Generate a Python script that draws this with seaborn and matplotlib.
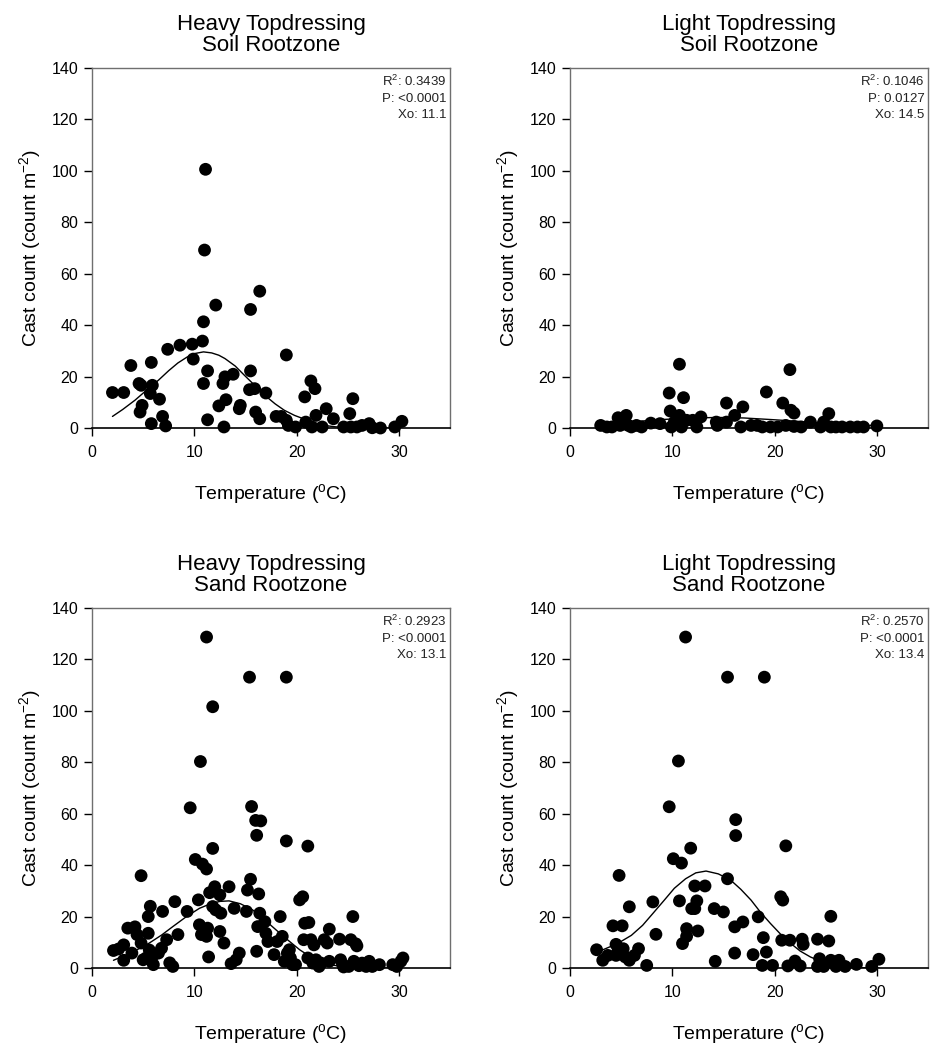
import pandas as pd
import seaborn as sns
import matplotlib.pyplot as plt

# ---- data ----
heavy_soil_temp = [2.0, 3.1, 3.8, 4.6, 4.8, 4.9, 4.7, 5.8, 5.9, 5.7, 6.6, 5.8, 6.9, 7.2,
                   7.4, 8.6, 9.8, 9.9, 10.8, 10.9, 11.0, 11.1, 10.9, 11.3, 11.3, 12.1,
                   12.4, 12.8, 13.0, 12.9, 13.1, 13.8, 14.4, 14.5, 15.5, 16.4, 15.5, 15.4,
                   15.9, 16.0, 16.4, 17.0, 18.0, 18.5, 19.0, 19.0, 19.2, 19.9, 20.8, 20.9,
                   21.4, 21.8, 21.9, 21.5, 22.5, 22.9, 23.6, 24.6, 25.2, 25.5, 25.3, 25.9,
                   26.4, 27.1, 27.4, 28.2, 29.6, 30.3]
heavy_soil_cast = [13.8, 13.8, 24.3, 17.3, 16.6, 8.8, 6.2, 25.5, 16.6, 13.4, 11.2, 1.7, 4.5, 0.8,
                   30.6, 32.2, 32.6, 26.8, 33.8, 41.3, 69.2, 100.6, 17.3, 22.2, 3.2, 47.8,
                   8.6, 17.3, 19.9, 0.4, 11.0, 20.9, 7.5, 8.8, 46.1, 53.2, 22.2, 14.9,
                   15.3, 6.2, 3.6, 13.6, 4.5, 4.5, 28.4, 3.0, 1.0, 0.4, 12.1, 2.3,
                   18.3, 15.3, 4.9, 0.4, 0.4, 7.5, 3.6, 0.4, 5.6, 11.4, 0.4, 0.4,
                   1.0, 1.7, 0.1, 0.0, 0.4, 2.6]

light_soil_temp = [3.0, 3.6, 4.1, 4.7, 4.9, 5.5, 5.7, 6.0, 6.5, 7.0, 7.9, 8.8, 9.7, 9.8,
                   9.9, 10.2, 10.7, 10.7, 10.9, 11.1, 11.4, 12.0, 12.4, 12.8, 14.3, 14.4,
                   15.3, 15.3, 16.1, 16.7, 16.9, 17.7, 18.3, 18.8, 19.2, 19.6, 20.3, 20.8,
                   21.1, 21.5, 21.6, 21.9, 21.9, 22.6, 23.5, 24.5, 24.8, 25.3, 25.5, 26.0,
                   26.6, 27.4, 28.1, 28.7, 30.0]
light_soil_cast = [1.0, 0.4, 0.4, 4.0, 1.0, 4.9, 1.0, 0.4, 1.0, 0.4, 1.9, 1.7, 13.6, 6.6,
                   0.4, 2.3, 24.8, 4.9, 0.4, 11.8, 3.0, 3.0, 0.4, 4.3, 2.3, 1.0,
                   2.3, 9.7, 4.9, 0.4, 8.2, 1.0, 1.0, 0.4, 14.0, 0.4, 0.4, 9.7,
                   1.0, 22.7, 6.9, 5.8, 0.6, 0.4, 2.3, 0.4, 2.3, 5.6, 0.4, 0.4,
                   0.4, 0.4, 0.4, 0.4, 0.8]

heavy_sand_temp = [11.2, 15.4, 19.0, 11.8,
                   2.1, 2.6, 3.1, 3.1, 3.5, 3.9, 4.2, 4.4, 4.8, 4.8, 5.0, 5.3, 5.5, 5.7,
                   5.5, 5.6, 6.0, 6.0, 6.5, 6.8, 6.9, 7.3, 7.6, 7.9, 8.1, 8.4, 9.3, 9.6,
                   10.1, 10.4, 10.5, 10.6, 10.7, 10.8, 11.2, 11.2, 11.3, 11.4, 11.5, 11.8,
                   11.8, 12.0, 12.1, 12.5, 12.5, 12.6, 12.9, 13.4, 13.6, 13.9, 14.1, 14.4,
                   15.1, 15.2, 15.5, 15.6, 16.0, 16.1, 16.2, 16.3, 16.1, 16.4, 16.5, 16.9,
                   17.0, 17.2, 17.8, 18.1, 18.4, 18.6, 18.8, 19.0, 19.1, 19.3, 19.4, 19.6,
                   19.9, 20.3, 20.6, 20.7, 20.8, 21.1, 21.2, 21.1, 21.4, 21.6, 21.7, 21.9,
                   22.2, 22.4, 22.7, 23.0, 23.2, 23.2, 24.2, 24.3, 24.5, 24.6, 25.1, 25.3,
                   25.5, 25.6, 25.8, 25.9, 26.1, 26.4, 26.8, 27.1, 27.4, 28.1, 29.4, 29.8,
                   30.2, 30.4]
heavy_sand_cast = [128.7, 113.1, 113.1, 101.6,
                   6.8, 7.4, 9.0, 3.0, 15.5, 5.8, 16.0, 13.0, 35.9, 9.7, 3.2, 3.9, 20.0, 24.0,
                   13.5, 7.0, 5.0, 1.3, 5.8, 7.7, 22.0, 11.0, 2.0, 0.6, 25.8, 13.0, 22.0, 62.3,
                   42.2, 26.5, 16.8, 80.3, 13.0, 40.4, 38.5, 12.3, 15.5, 4.3, 29.3, 46.5,
                   23.9, 31.6, 22.6, 14.2, 28.4, 21.3, 9.7, 31.6, 1.7, 23.2, 3.2, 5.8,
                   22.0, 30.3, 34.5, 62.8, 57.4, 51.6, 16.1, 28.8, 6.5, 21.3, 57.2, 18.0,
                   13.5, 10.3, 5.2, 10.3, 20.0, 12.3, 2.6, 49.4, 5.8, 7.1, 3.9, 1.3,
                   1.3, 26.5, 27.7, 11.0, 17.4, 47.4, 17.7, 3.9, 11.0, 1.9, 9.0, 3.2,
                   0.6, 1.9, 11.0, 9.7, 15.1, 2.6, 11.2, 3.2, 1.3, 0.4, 0.6, 11.0,
                   20.0, 2.6, 9.4, 8.6, 0.9, 1.9, 0.6, 2.6, 0.6, 1.3, 1.3, 0.6,
                   2.6, 3.9]

light_sand_temp = [11.3, 15.4, 19.0, 10.6,
                   9.7, 16.2, 16.2, 11.8, 21.1, 10.1, 10.9, 4.8, 15.4, 12.2, 13.2,
                   20.6, 20.8, 5.8, 8.1, 10.7, 12.4, 12.2, 11.9, 14.1, 15.0, 18.4, 16.9,
                   16.1, 4.2, 5.1, 8.4, 11.4, 11.4, 11.0, 12.5, 18.9, 20.7, 21.5, 22.7,
                   22.8, 24.2, 25.3, 25.5, 2.6, 3.2, 3.7, 4.5, 4.7, 4.5, 5.2, 5.4, 5.8,
                   6.3, 6.7, 7.5, 14.2, 16.1, 17.9, 19.2, 18.8, 19.8, 21.3, 22.0, 22.5,
                   24.4, 24.2, 24.8, 25.5, 26.0, 26.3, 26.9, 28.0, 29.5, 30.2]
light_sand_cast = [128.7, 113.1, 113.1, 80.5,
                   62.7, 57.7, 51.5, 46.6, 47.5, 42.5, 40.8, 36.0, 34.7, 31.9, 31.9,
                   27.7, 26.4, 23.8, 25.7, 26.1, 26.1, 23.1, 23.1, 23.1, 21.8, 19.9, 17.9,
                   16.0, 16.4, 16.4, 13.1, 15.3, 12.3, 9.5, 14.4, 11.8, 10.8, 10.8, 11.2,
                   9.2, 11.2, 10.5, 20.1, 7.1, 3.0, 4.9, 9.2, 6.6, 4.9, 7.5, 4.3, 3.0,
                   4.9, 7.5, 1.0, 2.6, 5.8, 5.2, 6.2, 1.0, 1.0, 0.8, 2.7, 0.8,
                   3.6, 0.6, 0.6, 3.0, 0.6, 3.0, 0.6, 1.4, 0.6, 3.4]

# fitted curves
heavy_soil_fit_t = [2.0, 3.0, 4.2, 5.3, 6.5, 7.5, 8.4, 9.3, 10.1, 10.9, 11.7, 12.4, 13.0,
                    14.0, 14.9, 15.9, 16.9, 17.9, 18.8, 19.8, 20.8, 21.8, 22.7, 23.7,
                    24.7, 26.0, 28.0, 30.3]
heavy_soil_fit_c = [4.5, 7.2, 10.8, 14.6, 18.6, 22.3, 25.3, 27.6, 29.0, 29.6, 29.2, 28.3, 27.0,
                    24.1, 20.5, 16.6, 12.7, 9.4, 6.9, 4.9, 3.4, 2.0, 1.0, 0.5,
                    0.2, 0.1, 0.0, 0.0]
light_soil_fit_t = [3.0, 6.0, 9.0, 12.0, 14.5, 17.0, 20.0, 23.0, 26.0, 30.0]
light_soil_fit_c = [1.5, 2.4, 3.3, 3.9, 4.1, 3.9, 3.2, 2.4, 1.6, 0.9]
heavy_sand_fit_t = [2.1, 3.9, 5.6, 6.8, 7.9, 9.2, 10.5, 11.6, 12.5, 13.4, 14.5, 15.7,
                    16.8, 18.0, 19.2, 20.3, 21.3, 22.2, 23.5, 25.5, 28.0, 30.4]
heavy_sand_fit_c = [3.0, 6.0, 9.7, 12.8, 16.1, 19.9, 23.2, 25.0, 25.9, 26.1, 25.0, 22.6,
                    19.0, 14.8, 10.7, 7.1, 4.5, 2.6, 1.1, 0.2, 0.0, 0.0]
light_sand_fit_t = [3.1, 4.6, 6.0, 7.1, 8.1, 9.2, 10.2, 11.3, 12.3, 13.3, 14.5, 15.7,
                    16.7, 17.7, 18.6, 19.6, 20.6, 21.6, 22.5, 23.5, 24.5, 25.5, 27.0,
                    28.7, 30.2]
light_sand_fit_c = [6.9, 9.4, 12.7, 16.6, 21.2, 26.3, 31.0, 34.7, 37.0, 37.7, 36.6, 34.2,
                    30.6, 26.4, 21.8, 17.3, 13.1, 9.5, 6.6, 4.3, 2.6, 1.4, 0.5,
                    0.1, 0.0]

titles = ['Heavy Topdressing\nSoil Rootzone', 'Light Topdressing\nSoil Rootzone',
          'Heavy Topdressing\nSand Rootzone', 'Light Topdressing\nSand Rootzone']
r2_labels = ['0.3439', '0.1046', '0.2923', '0.2570']
p_labels = ['<0.0001', '0.0127', '<0.0001', '<0.0001']
xo_labels = ['11.1', '14.5', '13.1', '13.4']

sns.set_theme(style='white')
plt.rcParams['font.family'] = ['Liberation Sans', 'DejaVu Sans']
plt.rcParams['mathtext.fontset'] = 'custom'
plt.rcParams['mathtext.rm'] = 'Liberation Sans'
plt.rcParams['mathtext.it'] = 'Liberation Sans:italic'
plt.rcParams['text.color'] = 'black'
plt.rcParams['axes.labelcolor'] = 'black'
plt.rcParams['xtick.color'] = 'black'
plt.rcParams['ytick.color'] = 'black'

f = plt.figure(figsize=(9.32, 10.45), dpi=100)
W, H = 932, 1045
rects = [(92, 68), (570, 68), (92, 608), (570, 608)]
aw, ah = 358, 360

panels = [
    (heavy_soil_temp, heavy_soil_cast, heavy_soil_fit_t, heavy_soil_fit_c),
    (light_soil_temp, light_soil_cast, light_soil_fit_t, light_soil_fit_c),
    (heavy_sand_temp, heavy_sand_cast, heavy_sand_fit_t, heavy_sand_fit_c),
    (light_sand_temp, light_sand_cast, light_sand_fit_t, light_sand_fit_c),
]

for i, (temp, cast, fit_t, fit_c) in enumerate(panels):
    left, top = rects[i]
    ax = f.add_axes([left / W, 1 - (top + ah) / H, aw / W, ah / H])

    pts = pd.DataFrame({'temp': temp, 'cast': cast})
    fit = pd.DataFrame({'temp': fit_t, 'cast': fit_c})

    sns.lineplot(fit, x='temp', y='cast', ax=ax, color='black', lw=1.0, zorder=2)
    sns.scatterplot(pts, x='temp', y='cast', ax=ax, color='black', s=85,
                    edgecolor='none', zorder=3, clip_on=False)

    ax.set_xlim(0, 35)
    ax.set_ylim(0, 140)
    ax.set_xticks([0, 10, 20, 30])
    ax.set_yticks(range(0, 141, 20))
    ax.tick_params(axis='both', direction='out', length=6, width=1, color='black',
                   labelsize=11.5, pad=4, bottom=True, left=True)
    ax.tick_params(axis='x', pad=6)

    for side in ['top', 'right', 'left']:
        ax.spines[side].set_color('#6f6f6f')
        ax.spines[side].set_linewidth(1.0)
    ax.spines['bottom'].set_color('black')
    ax.spines['bottom'].set_linewidth(1.2)

    ax.set_title(titles[i], fontsize=16, pad=12, linespacing=1.05, color='black')
    ax.set_xlabel('Temperature ($\\mathregular{^{o}}$C)', fontsize=14, labelpad=16)
    ax.set_ylabel('Cast count (count m$\\mathregular{^{-2}}$)', fontsize=14, labelpad=6)

    ann = 'R$\\mathregular{^2}$: ' + r2_labels[i] + '\nP: ' + p_labels[i] + '\nXo: ' + xo_labels[i]
    ax.text(0.99, 0.985, ann, transform=ax.transAxes, ha='right', va='top',
            fontsize=9.5, color='#222222', linespacing=1.45, multialignment='right')

f.savefig('out.png', dpi=100)
